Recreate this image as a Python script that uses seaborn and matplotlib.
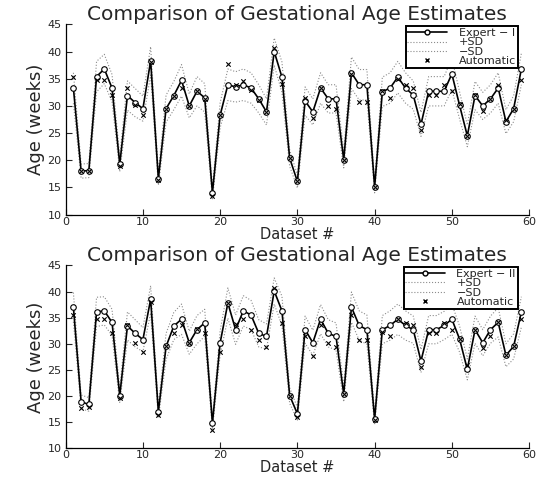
import numpy as np
import pandas as pd
import matplotlib
matplotlib.use("Agg")
import matplotlib.pyplot as plt
import seaborn as sns
from matplotlib.lines import Line2D

datasets = list(range(1, 60))

expert1 = [33.3, 18.0, 18.1, 35.4, 36.8, 33.3, 19.3, 31.9, 30.6, 29.5,
           38.3, 16.6, 29.5, 31.9, 34.7, 30.0, 32.7, 31.5, 14.0, 28.3,
           33.9, 33.5, 33.9, 33.3, 31.3, 28.9, 40.0, 35.3, 20.4, 16.1,
           30.9, 28.9, 33.3, 31.3, 31.3, 20.1, 36.1, 33.9, 33.9, 15.1,
           32.6, 33.3, 35.3, 33.3, 32.0, 26.6, 32.7, 32.7, 32.7, 35.9,
           30.1, 24.5, 31.9, 30.0, 31.3, 33.3, 27.1, 29.5, 36.8]

auto1 = [35.3, 18.0, 18.1, 34.7, 34.7, 32.0, 19.0, 33.3, 30.1, 28.3,
         38.0, 16.4, 29.5, 31.9, 33.3, 30.0, 32.7, 31.3, 13.5, 28.3,
         37.7, 33.9, 34.6, 32.9, 31.1, 28.9, 40.6, 34.0, 20.4, 16.1,
         31.4, 27.8, 33.3, 30.0, 29.5, 20.1, 35.9, 30.8, 30.8, 15.1,
         32.7, 31.4, 34.9, 33.9, 33.3, 25.6, 32.0, 32.0, 33.9, 32.7,
         30.4, 24.5, 32.0, 29.0, 31.3, 33.9, 27.4, 29.5, 34.7]

expert2 = [37.0, 18.9, 18.4, 36.1, 36.3, 34.1, 20.1, 33.4, 32.0, 30.8,
           38.5, 17.0, 29.5, 33.4, 34.7, 30.2, 32.7, 34.0, 14.8, 30.2,
           37.8, 32.7, 36.3, 35.5, 32.0, 31.4, 40.1, 36.3, 20.1, 16.6,
           32.7, 30.2, 34.7, 32.0, 31.4, 20.4, 37.0, 33.5, 32.7, 15.6,
           32.7, 33.5, 34.7, 33.5, 32.7, 26.7, 32.7, 32.7, 33.5, 34.7,
           30.9, 25.1, 32.7, 30.2, 32.7, 34.1, 27.8, 29.5, 36.1]

auto2 = [35.5, 17.8, 18.0, 34.7, 34.7, 32.0, 19.6, 33.5, 30.2, 28.4,
         37.9, 16.4, 29.5, 32.1, 33.5, 30.2, 32.9, 32.1, 13.5, 28.4,
         37.8, 33.8, 34.7, 32.7, 30.8, 29.4, 40.7, 34.0, 20.1, 16.0,
         31.5, 27.7, 33.5, 30.2, 29.4, 20.4, 35.5, 30.8, 30.8, 15.5,
         32.3, 31.5, 34.7, 34.0, 33.5, 25.6, 32.1, 32.1, 34.0, 32.7,
         30.9, 25.9, 32.7, 29.1, 31.5, 34.1, 27.8, 29.5, 34.7]

# standard deviation of the expert estimate, per dataset
sd = [2.8, 1.3, 1.3, 2.8, 2.7, 2.5, 1.4, 2.7, 2.6, 2.3,
      2.6, 1.2, 2.5, 2.6, 2.9, 2.2, 2.7, 2.6, 1.1, 2.3,
      2.9, 2.8, 2.9, 2.8, 2.6, 2.4, 2.5, 2.8, 1.5, 1.2,
      2.6, 2.4, 2.8, 2.6, 2.6, 1.5, 2.9, 2.8, 2.8, 1.1,
      2.7, 2.8, 2.9, 2.8, 2.6, 2.2, 2.7, 2.7, 2.7, 2.9,
      2.5, 2.0, 2.6, 2.5, 2.6, 2.8, 2.2, 2.4, 2.9]

xticks = [0, 10, 20, 30, 40, 50, 60]
yticks = [10, 15, 20, 25, 30, 35, 40, 45]

sns.set_style("ticks")
plt.rcParams['font.family'] = ['DejaVu Sans']

fig = plt.figure(figsize=(5.41, 4.79), dpi=100)
ax1 = fig.add_axes([0.1214, 0.552, 0.8566, 0.397])
ax2 = fig.add_axes([0.1214, 0.064, 0.8566, 0.382])


def panel(ax, expert, auto, name):
    df = pd.DataFrame({"dataset": datasets, "expert": expert, "auto": auto, "sd": sd})
    df["plus"] = df["expert"] + df["sd"]
    df["minus"] = df["expert"] - df["sd"]

    sns.lineplot(data=df, x="dataset", y="expert", ax=ax, color="black", lw=1.2,
                 marker="o", markersize=4, markerfacecolor="white",
                 markeredgecolor="black", markeredgewidth=0.8, zorder=3)
    sns.lineplot(data=df, x="dataset", y="plus", ax=ax, color="#8c8c8c",
                 lw=0.8, linestyle=":", zorder=2)
    sns.lineplot(data=df, x="dataset", y="minus", ax=ax, color="#8c8c8c",
                 lw=0.8, linestyle=":", zorder=2)
    sns.scatterplot(data=df, x="dataset", y="auto", ax=ax, marker="x", s=10,
                    color="black", linewidth=0.8, zorder=4)

    ax.set_xlim(0, 60)
    ax.set_ylim(10, 45)
    ax.set_xticks(xticks)
    ax.set_yticks(yticks)
    ax.tick_params(direction="in", length=4, width=0.8, labelsize=8)
    ax.tick_params(axis="x", pad=1.5)
    ax.tick_params(axis="y", pad=3)
    ax.set_title("Comparison of Gestational Age Estimates", fontsize=14.5, pad=3)
    ax.set_xlabel("Dataset #", fontsize=10.5, labelpad=0)
    ax.set_ylabel("Age (weeks)", fontsize=13, labelpad=2)
    sns.despine(ax=ax)
    for s in ["left", "bottom"]:
        ax.spines[s].set_linewidth(0.9)
        ax.spines[s].set_color("black")

    handles = [
        Line2D([], [], color="black", lw=1.2, marker="o", markersize=3.5,
               markerfacecolor="white", markeredgecolor="black"),
        Line2D([], [], color="#8c8c8c", lw=0.8, linestyle=":"),
        Line2D([], [], color="#8c8c8c", lw=0.8, linestyle=":"),
        Line2D([], [], color="black", lw=0, marker="x", markersize=3.5),
    ]
    labels = [name, "+SD", "\u2212SD", "Automatic"]
    leg = ax.legend(handles, labels, loc="upper right", bbox_to_anchor=(0.975, 0.99),
                    fontsize=8, frameon=True, fancybox=False, framealpha=1,
                    edgecolor="black", borderpad=0.15, labelspacing=-0.05,
                    handlelength=3.6, handletextpad=1.0, borderaxespad=0)
    leg.get_frame().set_linewidth(1.4)


panel(ax1, expert1, auto1, "Expert \u2212 I")
panel(ax2, expert2, auto2, "Expert \u2212 II")

fig.savefig("out.png", dpi=100)
